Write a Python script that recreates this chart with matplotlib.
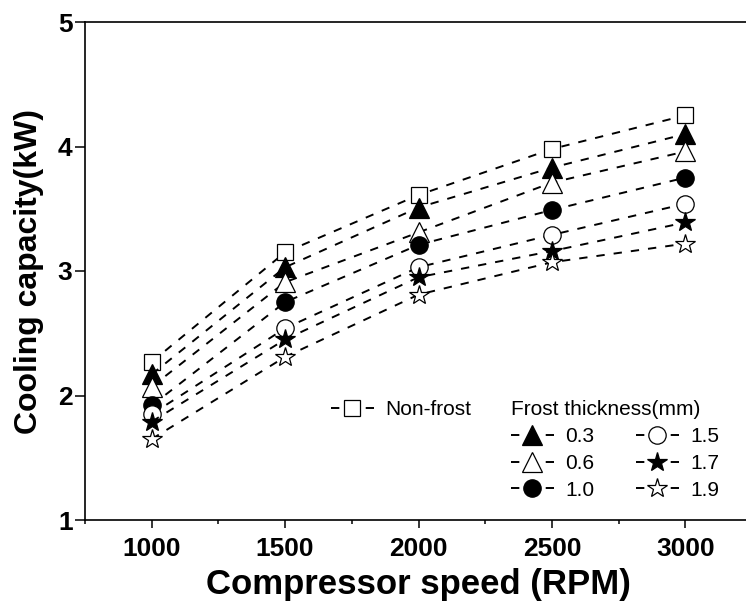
import matplotlib
matplotlib.use("Agg")
import matplotlib.pyplot as plt
from matplotlib.ticker import MultipleLocator, FixedLocator

# Compressor speed (RPM)
rpm = [1000, 1500, 2000, 2500, 3000]

# Cooling capacity (kW)
non_frost = [2.27, 3.15, 3.61, 3.98, 4.25]
frost_03 = [2.17, 3.03, 3.51, 3.83, 4.10]
frost_06 = [2.07, 2.91, 3.31, 3.71, 3.96]
frost_10 = [1.92, 2.75, 3.21, 3.49, 3.75]
frost_15 = [1.85, 2.54, 3.03, 3.29, 3.54]
frost_17 = [1.79, 2.45, 2.95, 3.16, 3.39]
frost_19 = [1.65, 2.31, 2.81, 3.07, 3.22]

x_ticks = [1000, 1500, 2000, 2500, 3000]
y_ticks = [1, 2, 3, 4, 5]

plt.rcParams["font.family"] = ["Liberation Sans", "DejaVu Sans"]
plt.rcParams["lines.scale_dashes"] = False

W, H = 746, 606
fig = plt.figure(figsize=(W / 100, H / 100), dpi=100)
ax = fig.add_axes([85 / W, 1 - 520 / H, (752 - 85) / W, (520 - 22) / H])

dash = (6.0, 6.5)
common = dict(color="black", lw=1.4, dashes=dash, mec="black", mew=0.9)

series = [
    (non_frost, "s", "white", 11, "Non-frost"),
    (frost_03, "^", "black", 14, "0.3"),
    (frost_06, "^", "white", 14, "0.6"),
    (frost_10, "o", "black", 12.5, "1.0"),
    (frost_15, "o", "white", 12.5, "1.5"),
    (frost_17, "*", "black", 14.5, "1.7"),
    (frost_19, "*", "white", 14.5, "1.9"),
]

handles = []
for vals, mk, fc, ms, lab in series:
    (h,) = ax.plot(rpm, vals, marker=mk, mfc=fc, ms=ms, label=lab, **common)
    handles.append(h)

ax.set_xlim(750, 3250)
ax.set_ylim(1, 5)
ax.xaxis.set_major_locator(FixedLocator(x_ticks))
ax.xaxis.set_minor_locator(MultipleLocator(250))
ax.yaxis.set_major_locator(FixedLocator(y_ticks))
ax.set_xticklabels([str(v) for v in x_ticks])
ax.set_yticklabels([str(v) for v in y_ticks])

for s in ax.spines.values():
    s.set_linewidth(1.2)

ax.tick_params(axis="x", which="major", direction="out", length=6, width=1.1,
               pad=6, labelsize=19)
ax.tick_params(axis="x", which="minor", direction="out", length=3, width=1.1)
ax.tick_params(axis="y", which="major", direction="out", length=7, width=1.1,
               pad=2, labelsize=19)
for lbl in ax.get_xticklabels() + ax.get_yticklabels():
    lbl.set_fontweight("bold")

ax.set_xlabel("Compressor speed (RPM)", fontsize=25, fontweight="bold",
              labelpad=5)
ax.set_ylabel("Cooling capacity(kW)", fontsize=23, fontweight="bold",
              labelpad=10)

leg_kw = dict(frameon=False, fontsize=15, handlelength=2.05, handletextpad=0.55,
              borderpad=0, borderaxespad=0, labelspacing=0.38, numpoints=1)

leg1 = ax.legend(handles=handles[:1], loc="upper left",
                 bbox_to_anchor=(331 / W, 1 - 400 / H),
                 bbox_transform=fig.transFigure, **leg_kw)
ax.add_artist(leg1)

leg2 = ax.legend(handles=handles[1:], loc="upper left", ncol=2,
                 columnspacing=2.0, title="Frost thickness(mm)",
                 title_fontsize=15, alignment="left",
                 bbox_to_anchor=(511 / W, 1 - 400 / H),
                 bbox_transform=fig.transFigure, **leg_kw)

fig.savefig("out.png", dpi=100)
